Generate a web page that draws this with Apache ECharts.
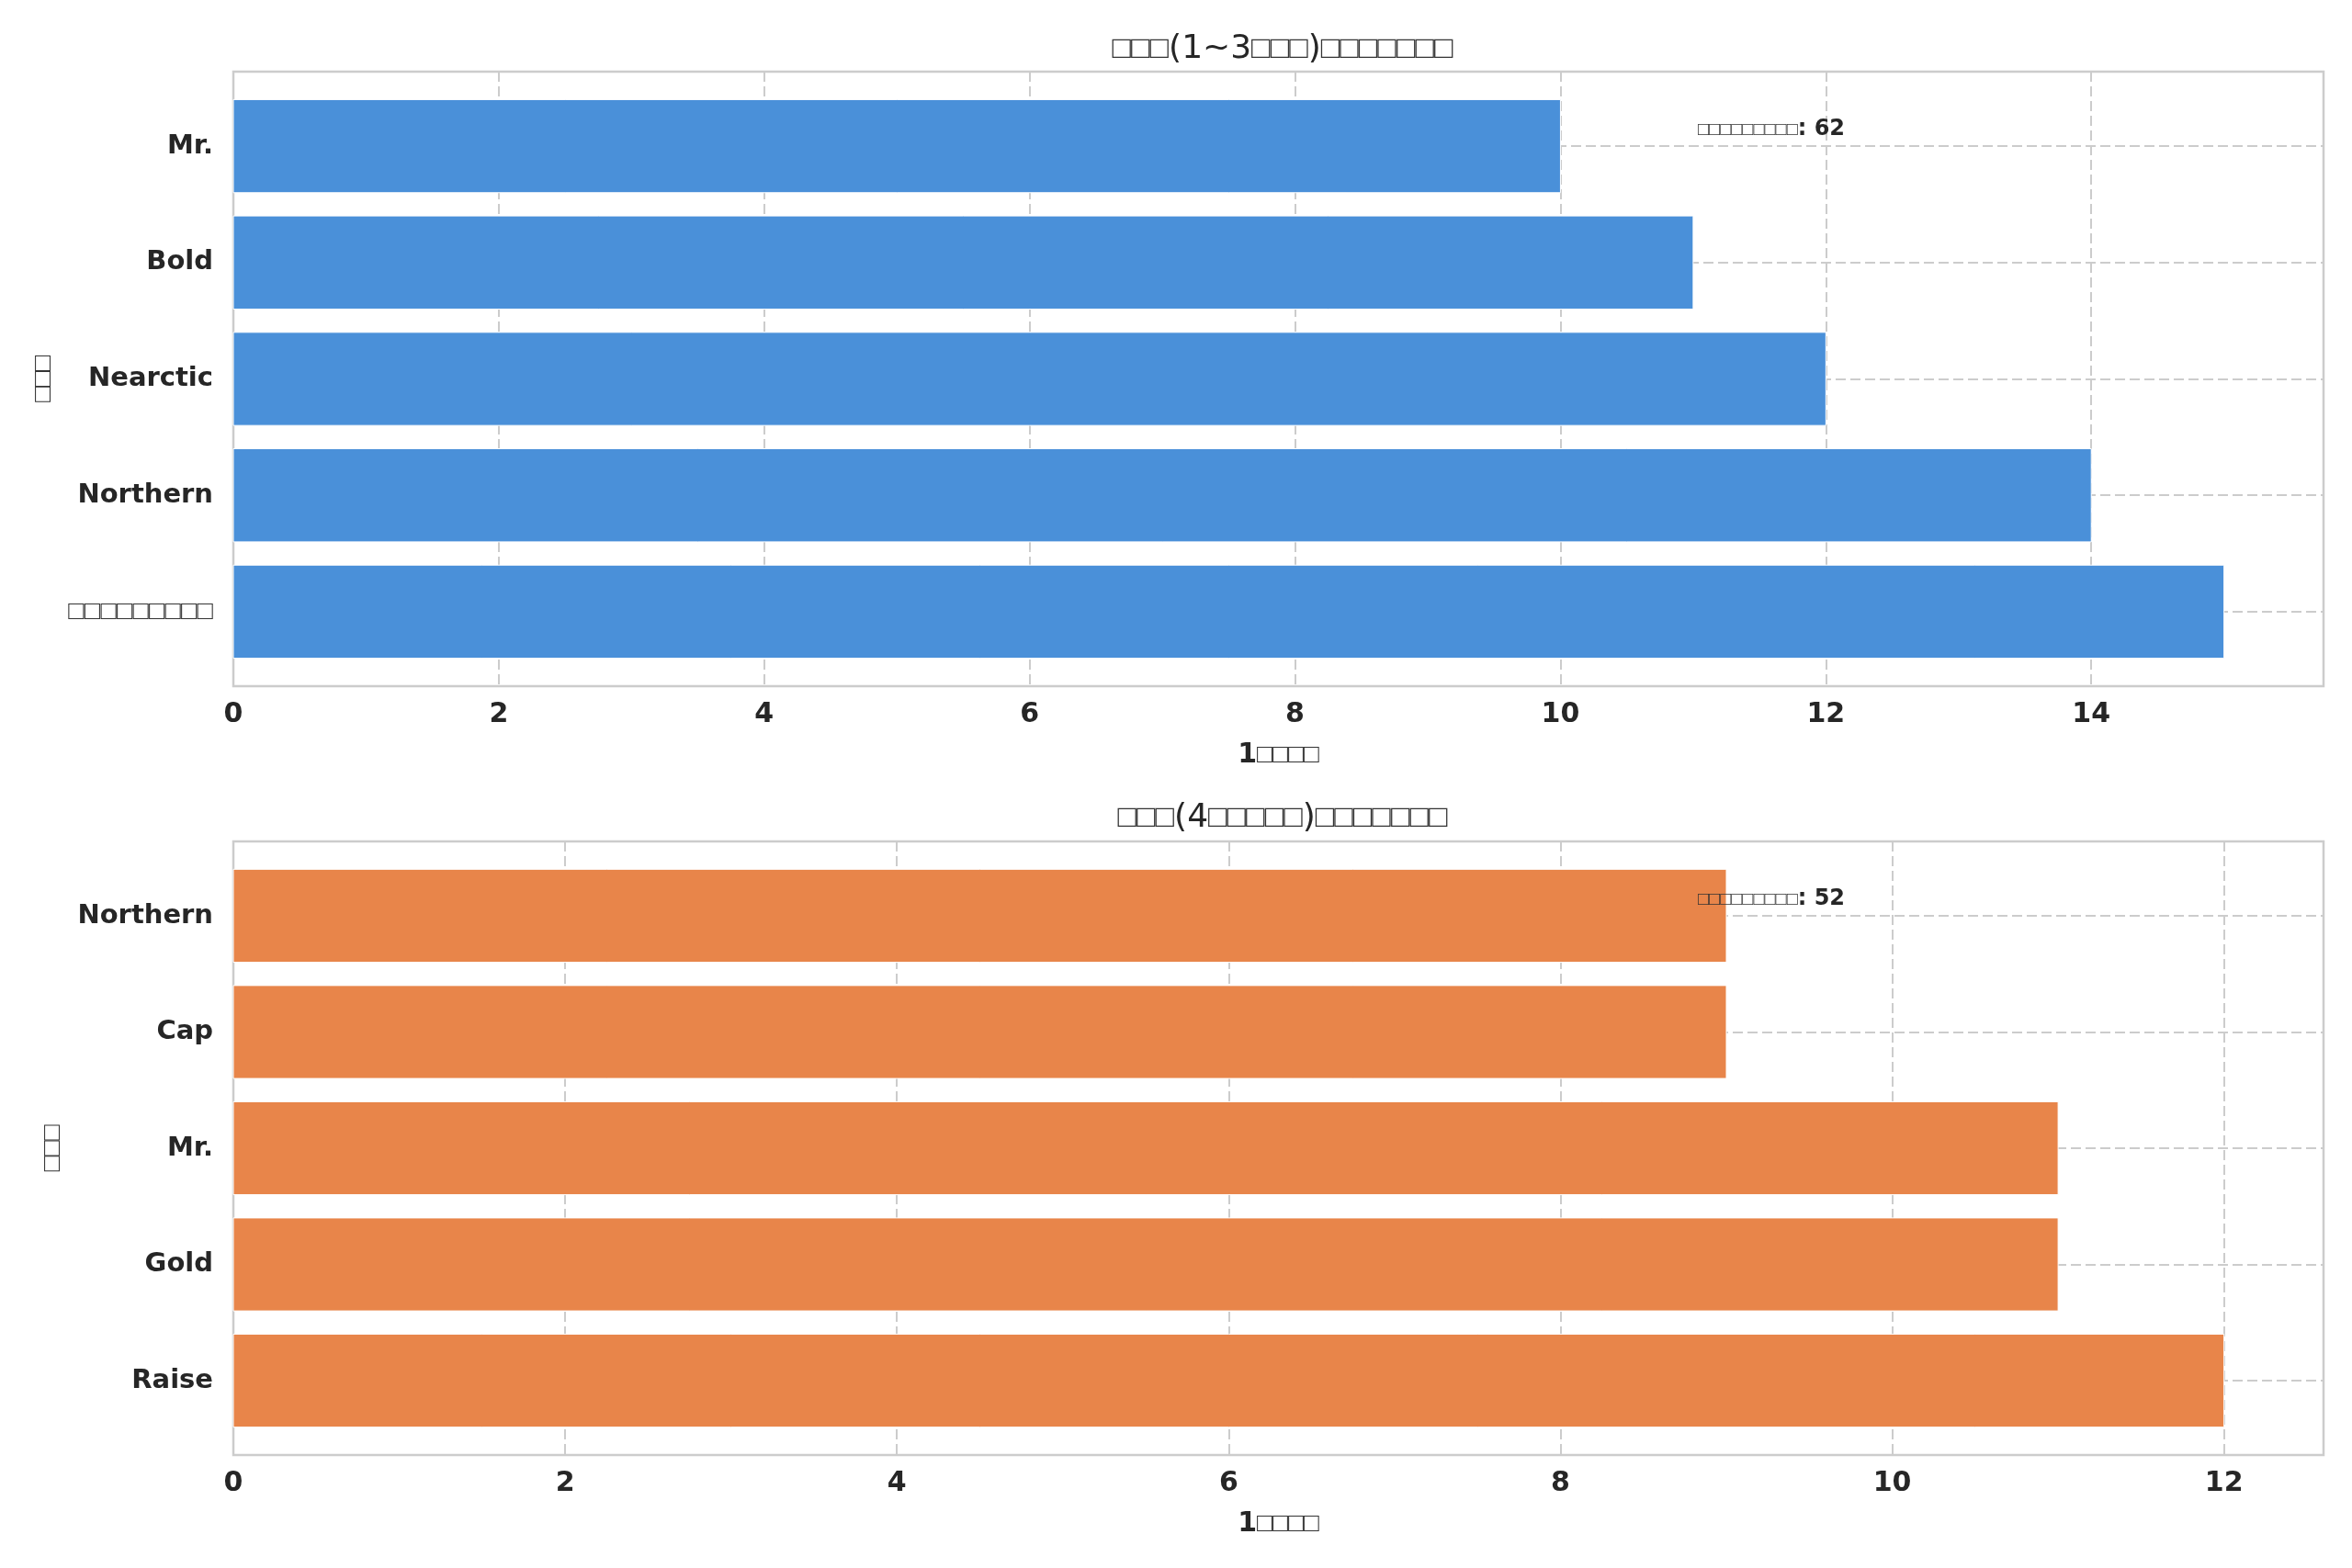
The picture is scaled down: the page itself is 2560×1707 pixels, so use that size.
<!DOCTYPE html>
<html><head><meta charset="utf-8">
<script src="https://cdn.jsdelivr.net/npm/echarts@6/dist/echarts.min.js"></script>
<style>html,body{margin:0;padding:0;background:#fff}#c{width:2560px;height:1707px}</style>
</head><body><div id="c"></div>
<script>
const B = '\u25A1';
const topCategories = [B.repeat(9), 'Northern', 'Nearctic', 'Bold', 'Mr.'];
const topValues = [15, 14, 12, 11, 10];
const bottomCategories = ['Raise', 'Gold', 'Mr.', 'Cap', 'Northern'];
const bottomValues = [12, 11, 11, 9, 9];
const topTitle = B.repeat(3) + '(1~3' + B.repeat(3) + ')' + B.repeat(7);
const bottomTitle = B.repeat(3) + '(4' + B.repeat(5) + ')' + B.repeat(7);
const xAxisName = '1' + B.repeat(4);
const yAxisName = B.repeat(3);
const annotationLabel = B.repeat(9);

const TXT = '#262626';
const GRIDC = '#cccccc';
const FONT = 'DejaVu Sans';
function wrap(s) { return s.replace(/\u25A1+/g, m => '{q|' + m + '}'); }
function rich(size) { return { q: { fontFamily: 'Liberation Sans', fontWeight: 'normal', fontSize: size, color: '#333' } }; }
const sum = a => a.reduce((x, y) => x + y, 0);

const panels = [
  { cats: topCategories, vals: topValues, title: topTitle, color: '#4A90D9', top: 78, height: 669, titleTop: 31, annTop: 124, yNameGap: 193 },
  { cats: bottomCategories, vals: bottomValues, title: bottomTitle, color: '#E8854A', top: 916, height: 668, titleTop: 868, annTop: 962, yNameGap: 183 }
];

const option = {
  backgroundColor: '#fff',
  animation: false,
  title: [],
  grid: [], xAxis: [], yAxis: [], series: []
};

panels.forEach((p, i) => {
  option.title.push({
    text: wrap(p.title), left: 1391, textAlign: 'center', top: p.titleTop,
    textStyle: { fontFamily: FONT, fontSize: 36, fontWeight: 'normal', color: TXT, rich: rich(34) }
  });
  option.title.push({
    text: wrap(annotationLabel) + ': ' + sum(p.vals), left: 1843, top: p.annTop,
    textStyle: { fontFamily: FONT, fontSize: 24, fontWeight: 'bold', color: TXT, rich: rich(20) }
  });
  option.grid.push({
    left: 254, right: 31, top: p.top, height: p.height,
    show: true, borderColor: GRIDC, borderWidth: 2.5, backgroundColor: '#fff', containLabel: false
  });
  const xmax = Math.max(...p.vals) * 1.05;
  option.xAxis.push({
    type: 'value', gridIndex: i, min: 0, max: xmax, interval: 2,
    name: wrap(xAxisName), nameLocation: 'middle', nameGap: 60,
    nameTextStyle: { fontFamily: FONT, fontSize: 30, fontWeight: 'bold', color: TXT, rich: rich(28) },
    axisLine: { show: false }, axisTick: { show: false },
    axisLabel: { fontFamily: FONT, fontSize: 30, fontWeight: 'bold', color: TXT, margin: 16,
      formatter: v => (Math.abs(v % 2) < 1e-9 ? String(v) : '') },
    splitLine: { show: true, lineStyle: { color: GRIDC, width: 2, type: [11, 5] } }
  });
  option.yAxis.push({
    type: 'value', gridIndex: i, min: -0.64, max: p.cats.length - 1 + 0.64, minInterval: 1, maxInterval: 1,
    name: wrap(yAxisName), nameLocation: 'middle', nameRotate: 90, nameGap: p.yNameGap,
    nameTextStyle: { fontFamily: FONT, fontSize: 28, fontWeight: 'normal', color: TXT, rich: rich(28) },
    axisLine: { show: false }, axisTick: { show: false },
    axisLabel: { fontFamily: FONT, fontSize: 29, fontWeight: 'bold', color: TXT, margin: 22, rich: rich(29),
      formatter: v => { const k = Math.round(v); return (Math.abs(v - k) < 1e-9 && p.cats[k] !== undefined) ? wrap(p.cats[k]) : ''; } },
    splitLine: { show: true, lineStyle: { color: GRIDC, width: 2, type: [11, 5] } }
  });
  option.series.push({
    type: 'custom', xAxisIndex: i, yAxisIndex: i,
    data: p.vals.map((v, k) => [v, k]),
    encode: { x: 0, y: 1 },
    renderItem: (params, api) => {
      const x = api.value(0), y = api.value(1);
      const s = api.coord([0, y]);
      const e = api.coord([x, y]);
      const h = api.size([0, 0.8])[1];
      return { type: 'rect', shape: { x: s[0], y: s[1] - h / 2, width: e[0] - s[0], height: h },
        style: { fill: p.color, stroke: '#ffffff', lineWidth: 1 } };
    },
    z: 3
  });
});

const chart = echarts.init(document.getElementById('c'));
chart.setOption(option);
</script></body></html>
